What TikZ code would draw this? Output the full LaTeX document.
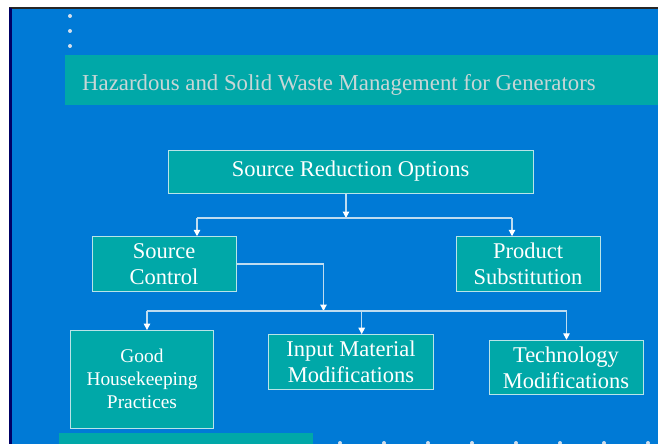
\documentclass[tikz,border=0pt]{standalone}
\usepackage{fontspec}
\setmainfont{Liberation Serif}
\usetikzlibrary{arrows.meta}
\definecolor{slideblue}{RGB}{0,122,214}
\definecolor{slideteal}{RGB}{0,168,168}
\definecolor{titlegray}{RGB}{200,214,214}
\definecolor{edgecyan}{RGB}{185,228,232}
\definecolor{linkblue}{RGB}{190,220,240}
\definecolor{dotgray}{RGB}{210,222,235}

\begin{document}
\begin{tikzpicture}[x=1pt,y=-1pt,
    box/.style={draw=edgecyan,line width=1pt,fill=slideteal,text=white,
        align=center,inner sep=0pt,font=\fontsize{22.5}{26}\selectfont},
    link/.style={draw=linkblue,line width=1.3pt},
    tip/.style={-{Triangle[width=6.5pt,length=6.5pt,color=white]}}]
    \useasboundingbox (0,0) rectangle (658,444);

    % slide background
    \fill[white] (0,0) rectangle (658,444);
    \fill[slideblue] (10,8) rectangle (658,444);
    \draw[black!85,line width=1.6pt] (9,7.8) -- (658,7.8);
    \draw[blue!40!black,line width=2.5pt] (10.3,8) -- (10.3,444);
    \foreach \y in {16,31,46}
        \fill[dotgray] (70,\y) circle (2pt);
    \foreach \x in {340,384,...,648}
        \fill[dotgray] (\x,443) circle (2pt);
    \fill[slideteal] (59,433) rectangle (313,444);

    % title band
    \fill[slideteal] (65,55) rectangle (658,105);
    \node[anchor=base west,inner sep=0pt,text=titlegray,
        font=\fontsize{22.8}{26}\selectfont] (title) at (82,90)
        {Hazardous and Solid Waste Management for Generators};

    % boxes
    \node[box,minimum width=365pt,minimum height=43pt] (sro) at (350.5,171.5)
        {Source Reduction Options};
    \node[box,minimum width=144pt,minimum height=54.5pt] (sc) at (164,264)
        {Source\\Control};
    \node[box,minimum width=144pt,minimum height=54.5pt] (ps) at (528,264)
        {Product\\Substitution};
    \node[box,minimum width=143pt,minimum height=97.5pt,
        font=\fontsize{19.4}{23}\selectfont] (gh) at (142,379.3)
        {Good\\Housekeeping\\Practices};
    \node[box,minimum width=165pt,minimum height=54.6pt] (im) at (351,362)
        {Input Material\\Modifications};
    \node[box,minimum width=154pt,minimum height=54pt] (tm) at (566,367.3)
        {Technology\\Modifications};

    % connectors
    \coordinate (j1) at (346,218);
    \coordinate (r1w) at (197,218);
    \coordinate (r1e) at (512,218);
    \coordinate (j2) at (323.5,311);
    \coordinate (r2w) at (147,311);
    \coordinate (r2m) at (361.7,311);
    \coordinate (r2e) at (566.5,311);

    \draw[link,tip] (sro.south -| j1) -- (j1);
    \draw[link] (r1w) -- (r1e);
    \draw[link,tip] (r1w) -- (r1w |- sc.north);
    \draw[link,tip] (r1e) -- (r1e |- ps.north);

    \draw[link,tip] (sc.east) -| (j2);
    \draw[link] (r2w) -- (r2e);
    \draw[link,tip] (r2w) -- (r2w |- gh.north);
    \draw[link,tip] (r2m) -- (r2m |- im.north);
    \draw[link,tip] (r2e) -- (r2e |- tm.north);
\end{tikzpicture}
\end{document}
